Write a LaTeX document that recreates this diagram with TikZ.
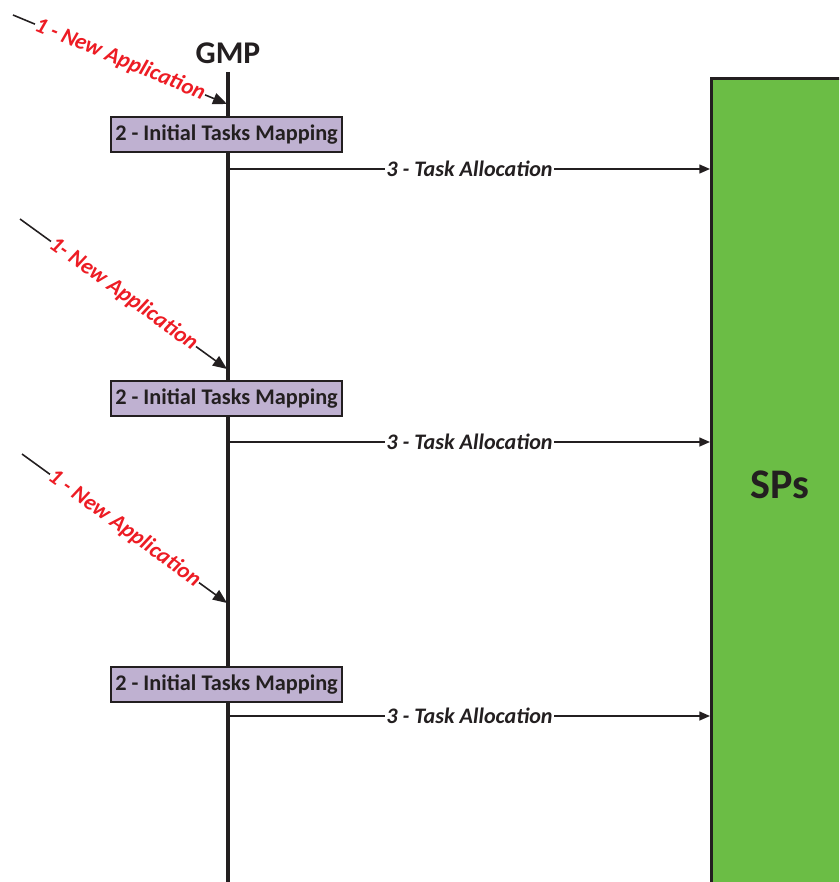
\documentclass[tikz,border=0pt]{standalone}
\usepackage{fontspec}
\setmainfont{Carlito}
\usetikzlibrary{arrows.meta}
\definecolor{ink}{HTML}{231F20}
\definecolor{mapfill}{HTML}{BFB1D1}
\definecolor{spgreen}{HTML}{6BBD45}
\definecolor{appred}{HTML}{ED1C24}
\begin{document}
\begin{tikzpicture}[x=0.02cm,y=-0.02cm,
  lifeline/.style={draw=ink,line width=2pt},
  mapbox/.style={draw=ink,fill=mapfill,line width=1.2pt,minimum width=4.62cm,
    minimum height=0.7cm,inner sep=0pt,font=\bfseries\fontsize{12.7}{14}\selectfont,text=ink},
  alloc/.style={draw=ink,line width=0.9pt,-{Triangle[length=6pt,width=5pt]}},
  alloclabel/.style={fill=white,inner sep=1pt,font=\bfseries\itshape\fontsize{12.6}{14}\selectfont,text=ink},
  newapp/.style={draw=ink,line width=0.9pt,-{Triangle[length=8pt,width=6.5pt]}},
  applabel/.style={fill=white,inner sep=0.5pt,sloped,font=\bfseries\itshape\fontsize{12.8}{14}\selectfont,text=appred},
  spbox/.style={draw=ink,fill=spgreen,line width=1.9pt,anchor=north west,
    minimum width=4cm,minimum height=17cm,inner sep=0pt}]
\useasboundingbox (0,0) rectangle (839,882);
\clip (0,0) rectangle (839,882);

% processing elements
\node[spbox] (sps) at (710,77) {};
\node[font=\bfseries\fontsize{24}{28}\selectfont,text=ink] (spslabel) at (780,485) {SPs};

% global manager and its lifeline
\node[font=\bfseries\fontsize{18}{21}\selectfont,text=ink] (gmp) at (228,53) {GMP};
\coordinate (lifetop) at (228,72);
\coordinate (lifebot) at (228,890);
\draw[lifeline] (lifetop) -- (lifebot);

% points where applications reach the lifeline
\coordinate (in1) at (227,104);
\coordinate (in2) at (227,369);
\coordinate (in3) at (227,603);
\coordinate (src1) at (13,15);
\coordinate (src2) at (20,219);
\coordinate (src3) at (22,454);

\draw[newapp] (src1) -- (in1) node[applabel,pos=0.5] {1 - New Application};
\draw[newapp] (src2) -- (in2) node[applabel,pos=0.5] {1- New Application};
\draw[newapp] (src3) -- (in3) node[applabel,pos=0.5] {1 - New Application};

% mapping steps
\node[mapbox] (map1) at (226.5,134.5) {2 - Initial Tasks Mapping};
\node[mapbox] (map2) at (226.5,398.5) {2 - Initial Tasks Mapping};
\node[mapbox] (map3) at (226.5,684.5) {2 - Initial Tasks Mapping};

% allocations sent to the SPs
\coordinate (out1) at (229,169);
\coordinate (out2) at (229,442);
\coordinate (out3) at (229,716);
\draw[alloc] (out1) -- (out1 -| sps.west) node[alloclabel,midway] {3 - Task Allocation};
\draw[alloc] (out2) -- (out2 -| sps.west) node[alloclabel,midway] {3 - Task Allocation};
\draw[alloc] (out3) -- (out3 -| sps.west) node[alloclabel,midway] {3 - Task Allocation};
\end{tikzpicture}
\end{document}
